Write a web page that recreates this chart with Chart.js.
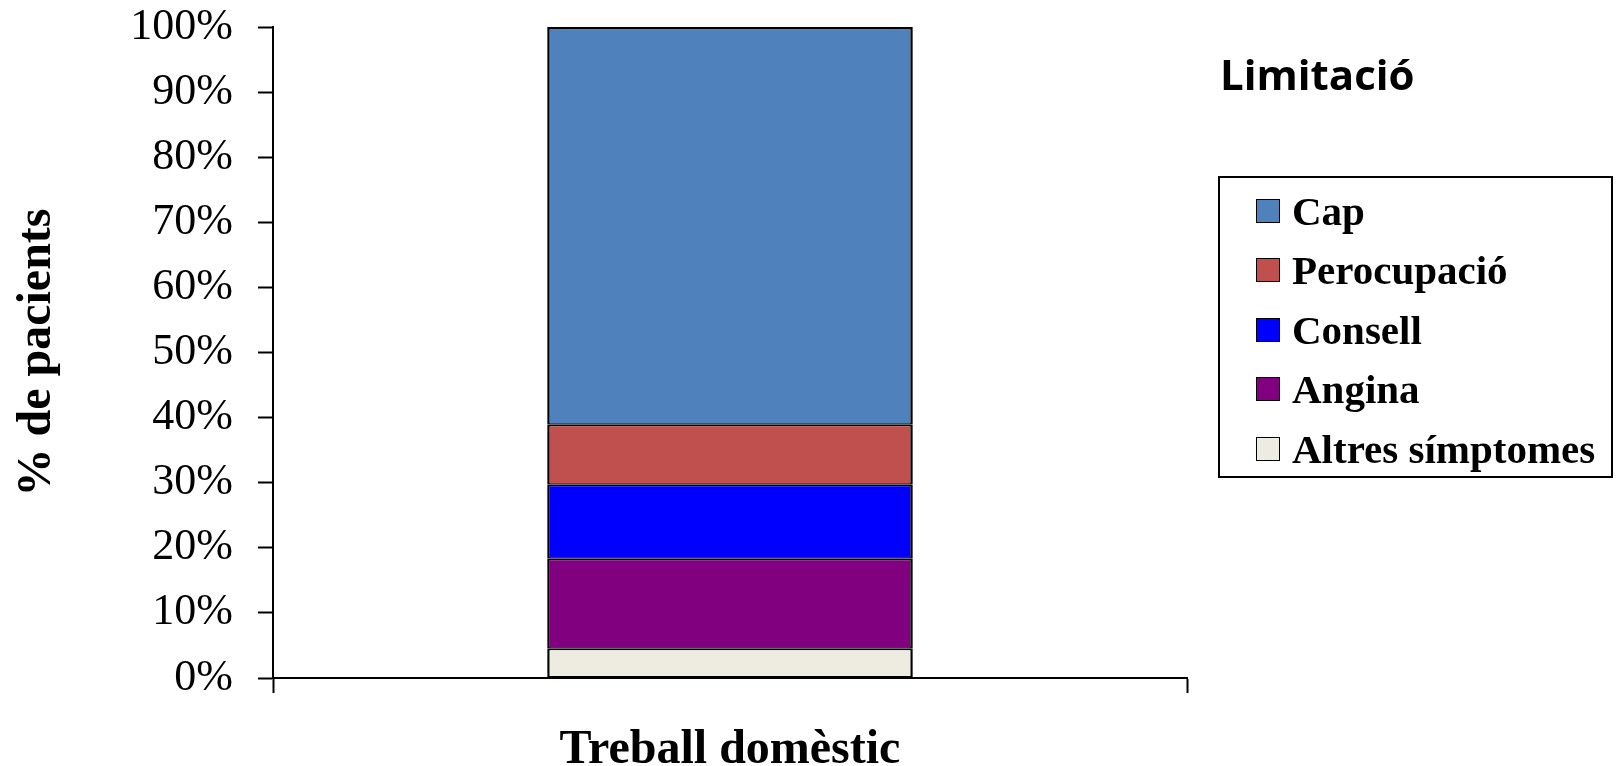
<!DOCTYPE html>
<html lang="ca">
<head>
<meta charset="utf-8">
<title>Limitació – Treball domèstic</title>
<script src="https://cdn.jsdelivr.net/npm/chart.js@4"></script>
<style>
  html, body { margin: 0; padding: 0; background: #fff; }
  #wrap { position: relative; width: 1618px; height: 766px; overflow: hidden; }
  #chart { position: absolute; left: 0; top: 0; }
  #legendTitle {
    position: absolute; left: 1220px; top: 53px;
    font: 700 42px "Open Sans", sans-serif; line-height: 1; color: #000;
  }
  #legend {
    position: absolute; left: 1218px; top: 176px;
    width: 395px; height: 302px; box-sizing: border-box;
    border: 2px solid #000; padding-top: 3px;
  }
  .item {
    display: flex; align-items: center; height: 59.5px;
    font: 700 41px "Liberation Serif", serif; color: #000; white-space: nowrap;
  }
  .swatch {
    width: 24px; height: 24px; box-sizing: border-box;
    border: 1.5px solid #000; margin-left: 36px; margin-right: 12px; flex: none;
  }
</style>
</head>
<body>
<div id="wrap">
  <canvas id="chart" width="1618" height="766"></canvas>
  <div id="legendTitle">Limitació</div>
  <div id="legend"></div>
</div>
<script>
// Categories and series (percent of patients, stacked bottom to top)
const categories = ['Treball domèstic'];
const seriesNames = ['Altres símptomes', 'Angina', 'Consell', 'Perocupació', 'Cap'];
const altresSimptomes = [4.5];
const angina = [13.8];
const consell = [11.4];
const perocupacio = [9.2];
const cap = [61.1];
const seriesColors = ['#EEECE1', '#800080', '#0000FF', '#C0504D', '#4F81BD'];
const yTickValues = [0, 10, 20, 30, 40, 50, 60, 70, 80, 90, 100];
const yTickLabels = ['0%', '10%', '20%', '30%', '40%', '50%', '60%', '70%', '80%', '90%', '100%'];

const seriesValues = [altresSimptomes, angina, consell, perocupacio, cap];
const lastIndex = seriesNames.length - 1;

const datasets = seriesNames.map((name, i) => ({
  label: name,
  data: seriesValues[i],
  backgroundColor: seriesColors[i],
  borderColor: '#000',
  // edges between stacked segments add up from both neighbours
  borderWidth: { left: 2.5, right: 2.5, top: i === lastIndex ? 2.5 : 1.5, bottom: 1.5 },
  borderSkipped: false,
  barPercentage: 0.4,
  categoryPercentage: 1.0
}));

const chart = new Chart(document.getElementById('chart'), {
  type: 'bar',
  data: { labels: categories, datasets },
  options: {
    responsive: false,
    devicePixelRatio: 1,
    animation: false,
    layout: { padding: { left: 0, right: 431, top: 27, bottom: 0 } },
    plugins: { legend: { display: false }, tooltip: { enabled: false } },
    scales: {
      x: {
        stacked: true,
        offset: true,
        grid: {
          display: true, drawOnChartArea: false, drawTicks: true, offset: true,
          tickLength: 15, tickWidth: 2, tickColor: '#000'
        },
        border: { display: true, color: '#000', width: 2 },
        ticks: {
          color: '#000', padding: 29,
          font: { family: 'Liberation Serif', size: 48, weight: 'bold' }
        },
        afterFit: (s) => { s.height = 88; }
      },
      y: {
        stacked: true,
        min: 0, max: 100,
        afterBuildTicks: (s) => { s.ticks = yTickValues.map(v => ({ value: v })); },
        grid: {
          display: true, drawOnChartArea: false, drawTicks: true,
          tickLength: 15, tickWidth: 2, tickColor: '#000'
        },
        border: { display: true, color: '#000', width: 2 },
        ticks: {
          color: '#000', padding: 25,
          font: { family: 'Liberation Serif', size: 44 },
          callback: (v) => yTickLabels[yTickValues.indexOf(v)]
        },
        title: {
          display: true, text: '% de pacients', color: '#000',
          font: { family: 'Liberation Serif', size: 48, weight: 'bold' },
          padding: { top: 9, bottom: 0 }
        },
        afterFit: (s) => {
          s.width = 273;
          s.paddingTop = 0;
          s.paddingBottom = 0;
        }
      }
    }
  }
});

// Legend built from the chart's datasets, top series first
const legendEl = document.getElementById('legend');
chart.data.datasets.slice().reverse().forEach(ds => {
  const row = document.createElement('div');
  row.className = 'item';
  const sw = document.createElement('span');
  sw.className = 'swatch';
  sw.style.background = ds.backgroundColor;
  const txt = document.createElement('span');
  txt.textContent = ds.label;
  row.appendChild(sw);
  row.appendChild(txt);
  legendEl.appendChild(row);
});
</script>
</body>
</html>
